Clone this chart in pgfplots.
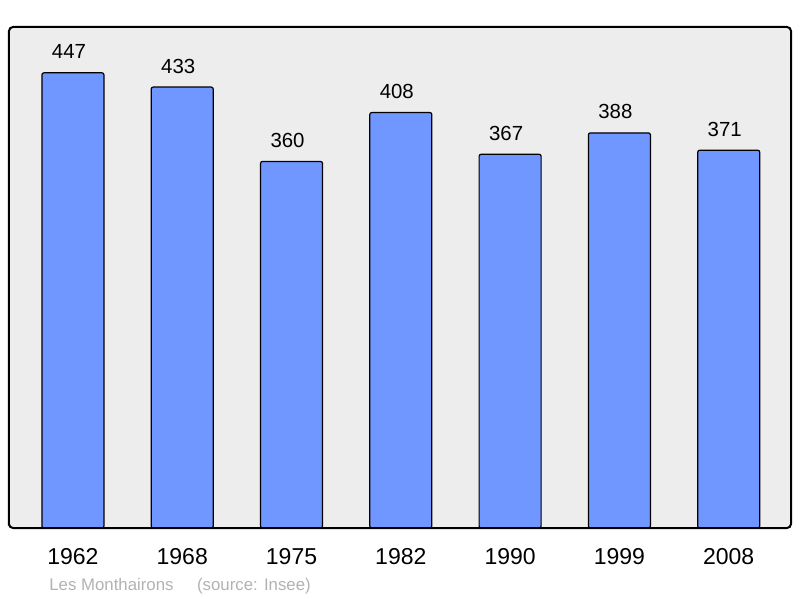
\documentclass[border=0pt]{standalone}
\usepackage{fontspec}
\setmainfont{Liberation Sans}
\usepackage{pgfplots}
\pgfplotsset{compat=1.18}
\definecolor{barblue}{RGB}{112,150,255}
\definecolor{bggray}{RGB}{237,237,237}
\definecolor{notegray}{RGB}{178,178,178}
\begin{document}
\begin{tikzpicture}
\begin{axis}[
    scale only axis,
    width=391pt,
    height=250.5pt,
    ybar,
    bar width=31pt,
    ymin=0, ymax=492,
    xmin=-0.585, xmax=6.57,
    xtick={0,1,2,3,4,5,6},
    xticklabels={1962,1968,1975,1982,1990,1999,2008},
    ytick=\empty,
    major tick length=0pt,
    /pgf/number format/assume math mode=true,
    xticklabel style={font=\fontsize{11.5}{13}\selectfont, anchor=base, yshift=-18pt},
    axis background/.style={fill=bggray},
    axis line style={line width=1pt, rounded corners=2pt},
    axis on top,
    nodes near coords,
    every node near coord/.append style={font=\fontsize{10.2}{12}\selectfont, anchor=base, xshift=-2pt, yshift=7pt, inner sep=0pt},
]
\addplot[fill=barblue, draw=black, line width=0.6pt, rounded corners=1pt]
  coordinates {(0,447) (1,433) (2,360) (3,408) (4,367) (5,388) (6,371)};
\end{axis}
\node[anchor=base west, text=notegray, font=\fontsize{8.4}{10}\selectfont, inner sep=0pt]
  at ([shift={(20pt,-31pt)}]current axis.south west) {Les Monthairons\hspace{1.4em}(source: Insee)};
\path ([shift={(-4.5pt,-35pt)}]current axis.south west) rectangle ([shift={(4.5pt,13.5pt)}]current axis.north east);
\end{tikzpicture}
\end{document}
